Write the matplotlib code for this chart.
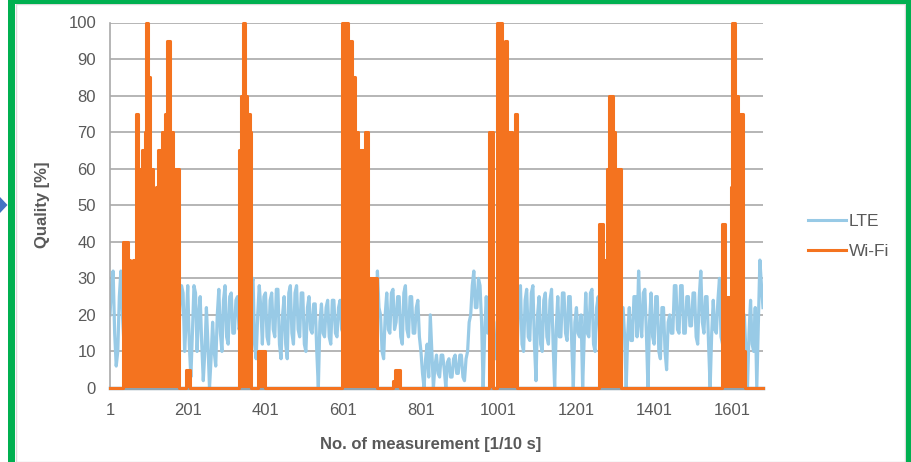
import matplotlib
matplotlib.use('Agg')
import matplotlib.pyplot as plt
import numpy as np
from matplotlib.patches import Rectangle, Polygon

plt.rcParams['font.family'] = ['Liberation Sans', 'DejaVu Sans']

# ---------------- data ----------------
series_names = ['LTE', 'Wi-Fi']
xtick_values = [1, 201, 401, 601, 801, 1001, 1201, 1401, 1601]
n_last = 1681

# LTE quality, one reading every 4 measurements
lte_step = 4
lte_values = [
    20, 28, 32, 15, 6, 10, 25, 32, 20, 12, 25, 18, 10, 22, 18, 8, 22, 25, 12, 20,
    12, 24, 25, 10, 15, 22, 12, 25, 20, 10, 22, 14, 25, 12, 20, 10, 22, 14, 25, 15,
    15, 20, 25, 14, 12, 22, 28, 26, 10, 18, 28, 12, 3, 15, 28, 26, 10, 20, 25, 12,
    2, 10, 22, 12, 0, 8, 18, 10, 6, 20, 27, 15, 10, 24, 28, 14, 12, 25, 26, 15,
    15, 24, 25, 16, 18, 22, 22, 15, 15, 20, 22, 28, 30, 12, 8, 20, 28, 22, 12, 25,
    26, 14, 12, 24, 26, 16, 14, 27, 27, 12, 8, 20, 25, 12, 8, 26, 28, 15, 12, 26,
    28, 16, 14, 26, 26, 12, 10, 22, 25, 16, 15, 23, 23, 10, 0, 18, 23, 15, 14, 22,
    24, 14, 12, 24, 24, 15, 14, 22, 24, 16, 15, 22, 20, 12, 12, 22, 22, 14, 15, 20,
    20, 12, 12, 22, 22, 16, 25, 15, 15, 27, 27, 18, 32, 22, 20, 10, 8, 20, 26, 16,
    15, 26, 27, 16, 18, 25, 25, 14, 12, 26, 28, 16, 14, 25, 25, 15, 15, 22, 24, 14,
    10, 4, 0, 8, 12, 3, 20, 10, 0, 6, 9, 4, 3, 9, 9, 5, 0, 7, 8, 3,
    3, 8, 9, 4, 4, 9, 9, 3, 2, 8, 10, 18, 20, 28, 32, 22, 22, 30, 28, 18,
    0, 15, 25, 15, 15, 22, 22, 10, 8, 18, 20, 12, 12, 22, 22, 15, 15, 20, 20, 12,
    20, 14, 12, 26, 28, 12, 10, 24, 27, 14, 13, 26, 28, 12, 2, 20, 25, 12, 10, 24,
    26, 14, 12, 24, 27, 12, 0, 16, 25, 14, 14, 26, 26, 15, 13, 25, 25, 12, 0, 18,
    22, 15, 14, 20, 0, 14, 26, 15, 14, 26, 27, 12, 10, 22, 25, 14, 15, 22, 20, 12,
    12, 20, 22, 14, 15, 20, 20, 12, 12, 22, 22, 14, 0, 15, 22, 13, 13, 25, 25, 14,
    32, 18, 14, 26, 27, 15, 0, 18, 26, 14, 12, 25, 25, 10, 8, 22, 22, 10, 5, 18,
    20, 15, 15, 28, 28, 16, 15, 28, 28, 15, 15, 25, 25, 17, 17, 26, 26, 14, 12, 25,
    32, 18, 15, 25, 25, 12, 0, 15, 24, 16, 15, 24, 30, 14, 12, 20, 20, 15, 15, 22,
    22, 14, 12, 22, 22, 15, 15, 20, 20, 10, 0, 15, 24, 12, 10, 22, 0, 18, 35, 28,
    22,
]

# Wi-Fi quality as runs: value holds from this measurement number to the next
wifi_n = [1, 34, 47, 52, 60, 68, 73, 83, 91, 94, 99, 104, 112, 119, 124, 135,
          142, 148, 155, 163, 168, 178, 196, 207,
          333, 338, 343, 348, 353, 361, 365, 382, 400,
          598, 614, 624, 631, 639, 644, 657, 665, 688, 729, 734, 747,
          976, 986, 996, 1009, 1017, 1022, 1035, 1043, 1048,
          1259, 1269, 1279, 1285, 1295, 1300, 1305, 1316,
          1575, 1583, 1599, 1601, 1609, 1617, 1629, 1634, 1681]
wifi_v = [0, 40, 35, 5, 35, 75, 60, 65, 70, 100, 85, 60, 50, 55, 65, 70,
          75, 95, 70, 30, 60, 0, 5, 0,
          65, 80, 100, 80, 75, 70, 0, 10, 0,
          100, 95, 85, 70, 55, 65, 70, 30, 0, 2, 5, 0,
          70, 0, 100, 70, 95, 70, 50, 75, 0,
          45, 35, 60, 80, 70, 50, 60, 0,
          45, 25, 55, 100, 80, 75, 10, 0, 0]

# ---------------- styling ----------------
lte_color = '#98CAE6'
wifi_color = '#F4731F'
grid_color = '#A9A9A9'
text_color = '#595959'

W, H = 912, 462
fig = plt.figure(figsize=(W / 100, H / 100), dpi=100)
fig.patch.set_facecolor('white')

ax = fig.add_axes([110 / W, 1 - 388 / H, (763 - 110) / W, (388 - 22.5) / H])

lte_n = 1 + lte_step * np.arange(len(lte_values))
ax.plot(lte_n, lte_values, color=lte_color, lw=2.3, zorder=2,
        label=series_names[0])
ax.fill_between(wifi_n, 0, wifi_v, step='post', color=wifi_color, lw=0, zorder=3)
ax.step(wifi_n, wifi_v, where='post', color=wifi_color, lw=2.2, zorder=4,
        label=series_names[1], clip_on=False)

ax.set_xlim(1, n_last)
ax.set_ylim(0, 100)
ax.set_yticks(range(0, 101, 10))
ax.set_xticks(xtick_values)
ax.set_xticklabels([str(v) for v in xtick_values])
ax.grid(axis='y', color=grid_color, lw=1.2)
ax.set_axisbelow(True)
for s in ['top', 'right']:
    ax.spines[s].set_visible(False)
ax.spines['left'].set_color(grid_color)
ax.spines['left'].set_linewidth(1.2)
ax.spines['bottom'].set_color('#8FA3B0')
ax.spines['bottom'].set_linewidth(2.5)
ax.tick_params(axis='both', length=0, labelsize=12, labelcolor=text_color)
ax.tick_params(axis='y', pad=10)
ax.tick_params(axis='x', pad=11)

ax.set_xlabel('No. of measurement [1/10 s]', fontsize=12, fontweight='bold',
              color=text_color)
ax.set_ylabel('Quality [%]', fontsize=12, fontweight='bold', color=text_color)
ax.xaxis.set_label_coords((431 - 110) / (763 - 110), -(437 - 388) / (388 - 22.5))
ax.yaxis.set_label_coords(-(110 - 50) / (763 - 110), 0.5)

leg = ax.legend(loc='center left', bbox_to_anchor=(808 / W, 1 - 236.5 / H),
                bbox_transform=fig.transFigure, frameon=False, fontsize=12.5,
                handlelength=2.2, handletextpad=0.15, labelspacing=0.9,
                borderpad=0, borderaxespad=0)
for line in leg.get_lines():
    line.set_linewidth(2.2)
for t in leg.get_texts():
    t.set_color(text_color)

# decorative frame
fig.add_artist(Rectangle((16 / W, 0), (905 - 16) / W, 1 - 4 / H, transform=fig.transFigure,
                         fill=False, edgecolor='#DADADA', lw=1))
fig.add_artist(Rectangle((8 / W, 0), 7 / W, 1, transform=fig.transFigure,
                         color='#00B050', lw=0))
fig.add_artist(Rectangle((8 / W, 1 - 3.5 / H), (911 - 8) / W, 3.5 / H,
                         transform=fig.transFigure, color='#00B050', lw=0))
fig.add_artist(Rectangle((906 / W, 0), 5 / W, 1, transform=fig.transFigure,
                         color='#00B050', lw=0))
fig.add_artist(Polygon([(0, 1 - 197 / H), (7.5 / W, 1 - 205 / H), (0, 1 - 213 / H)],
                       closed=True, transform=fig.transFigure, color='#4472C4', lw=0))

fig.savefig('out.png', dpi=100)
